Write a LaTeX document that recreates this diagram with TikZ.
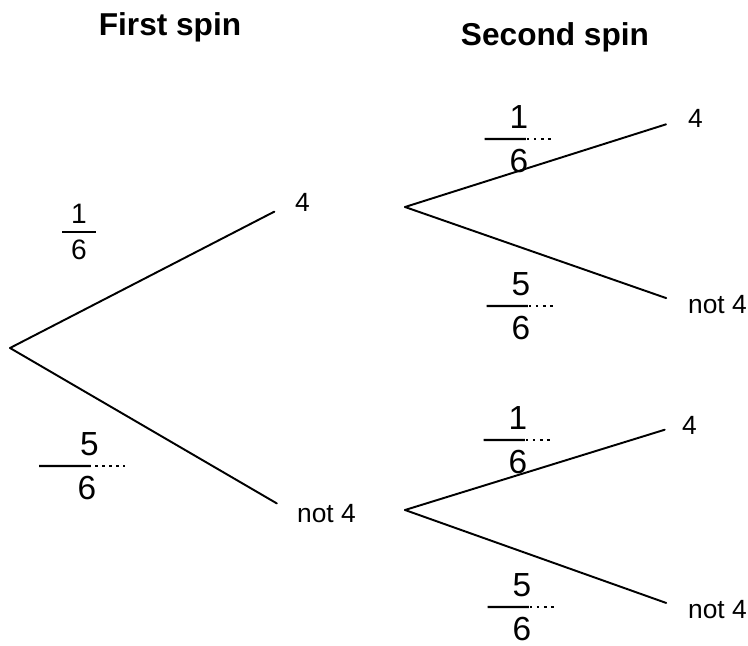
\documentclass[tikz,border=0pt]{standalone}
\usepackage{fontspec}
\setmainfont{Liberation Sans}
\usetikzlibrary{calc}
\tikzset{
  heading/.style={font=\fontsize{18}{22}\selectfont\bfseries},
  outcome/.style={anchor=west, font=\fontsize{15}{18}\selectfont, inner sep=1pt},
  branch/.style={line width=1.1pt, color=black, line cap=round},
  printfrac/.style={font=\fontsize{16}{21}\selectfont, align=center, inner sep=0pt, minimum width=0.66cm},
  handfrac/.style={font=\fontsize{19}{25}\selectfont, align=center, inner sep=0pt, minimum width=1.36cm},
  solidbar/.style={line width=1.4pt},
  dotbar/.style={line width=1.6pt, dash pattern=on 1.5pt off 2.5pt}
}
\newcommand{\handbar}[1]{%
  \draw[solidbar] (#1.west) -- ($(#1.west)!0.6!(#1.east)$);
  \draw[dotbar] (#1.west) -- (#1.east);}

\begin{document}
\begin{tikzpicture}[x=0.02cm, y=-0.02cm]
  \useasboundingbox (0,0) rectangle (748,646);

  % headings
  \node[heading] (h1) at (170,27) {First spin};
  \node[heading] (h2) at (555,37) {Second spin};

  % first spin
  \coordinate (root) at (10,348);
  \node[outcome] (f4)  at (293,202) {4};
  \node[outcome] (fn4) at (295,514) {not 4};
  \draw[branch, shorten >=0.42cm] (root) -- (f4.west);
  \draw[branch, shorten >=0.42cm] (root) -- (fn4.west);

  % second spin
  \coordinate (s1) at (405,207);
  \coordinate (s2) at (405,510);
  \node[outcome] (t4)  at (686,118) {4};
  \node[outcome] (tn4) at (686,305) {not 4};
  \node[outcome] (b4)  at (680,425) {4};
  \node[outcome] (bn4) at (686,610) {not 4};
  \draw[branch, shorten >=0.42cm] (s1) -- (t4.west);
  \draw[branch, shorten >=0.42cm] (s1) -- (tn4.west);
  \draw[branch, shorten >=0.32cm] (s2) -- (b4.west);
  \draw[branch, shorten >=0.42cm] (s2) -- (bn4.west);

  % probabilities
  \node[printfrac] (p1) at (79,232) {1\\6};
  \draw[line width=1pt] (p1.west) -- (p1.east);
  \node[handfrac, minimum width=1.7cm] (p2) at (82,466) {\hspace*{0.3cm}5\\\hspace*{0.2cm}6};
  \handbar{p2}
  \node[handfrac] (p3) at (519,139) {1\\6};
  \handbar{p3}
  \node[handfrac] (p4) at (521,306) {5\\6};
  \handbar{p4}
  \node[handfrac] (p5) at (518,440) {1\\6};
  \handbar{p5}
  \node[handfrac] (p6) at (522,607) {5\\6};
  \handbar{p6}
\end{tikzpicture}
\end{document}
